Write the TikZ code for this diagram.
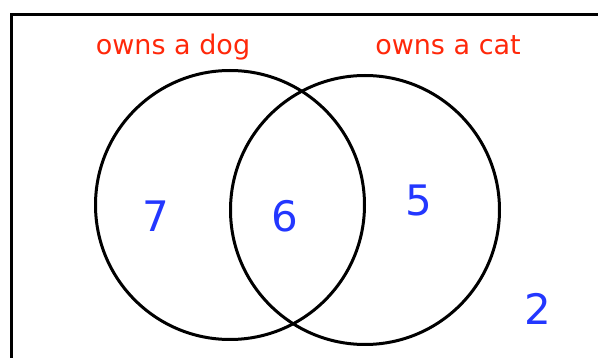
\documentclass[tikz,border=0pt]{standalone}
\usepackage{fontspec}
\setmainfont{DejaVu Sans}
\usepackage{tikz}
\definecolor{labelred}{RGB}{255,40,10}
\definecolor{numblue}{RGB}{35,55,255}

\begin{document}
\begin{tikzpicture}[x=1pt,y=-1pt,
    set/.style={draw,circle,line width=3pt,minimum size=269pt,inner sep=0pt},
    setlabel/.style={text=labelred,font=\fontsize{27}{31}\selectfont,anchor=base},
    count/.style={text=numblue,font=\fontsize{42}{46}\selectfont,inner sep=0pt}]
    \useasboundingbox (0,0) rectangle (598,358);
    \clip (0,0) rectangle (598,358);
    \draw[line width=3pt] (11,15) rectangle (620,380);
    \node[set] (dog) at (230,205) {};
    \node[set] (cat) at (365,210) {};
    \node[setlabel] (doglabel) at (173,55) {owns a dog};
    \node[setlabel] (catlabel) at (448,55) {owns a cat};
    \foreach \x/\y/\n/\name in {156/216/7/onlydog,285/216/6/both,419/200/5/onlycat,538/309/2/neither}
      {\node[count] (\name) at (\x,\y) {\n};}
\end{tikzpicture}
\end{document}
